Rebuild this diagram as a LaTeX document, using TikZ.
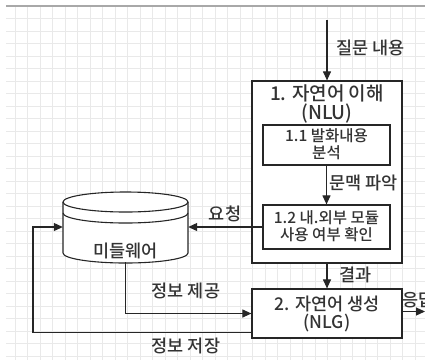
\documentclass[tikz,border=0pt]{standalone}
\usepackage{fontspec}
\setmainfont{Noto Sans CJK KR Medium}
\usetikzlibrary{arrows.meta,calc}
\definecolor{gridc}{HTML}{E9E9E9}
\definecolor{topc}{HTML}{A8A8A8}
\definecolor{inkc}{HTML}{262626}
\definecolor{txtc}{HTML}{333333}
\tikzset{
  boxst/.style={draw=inkc, line width=1.2pt, fill=white, inner sep=0pt},
  arr/.style={draw=inkc, line width=1.1pt, -{Triangle[length=9pt,width=8pt]}},
  plain/.style={draw=inkc, line width=1.1pt},
  lbl/.style={text=txtc, font=\fontsize{17.5}{20}\selectfont, inner sep=0pt},
  btxt/.style={text=txtc, font=\fontsize{15.5}{17}\selectfont, align=center, inner sep=0pt},
  ttxt/.style={text=txtc, font=\fontsize{19}{19}\selectfont, align=center, inner sep=0pt}
}
\begin{document}
\begin{tikzpicture}[x=1pt,y=-1pt]
\useasboundingbox (0,0) rectangle (425,360);
\clip (0,0) rectangle (425,360);
\fill[white] (0,0) rectangle (425,360);
% grid
\foreach \gx in {15,27.5,...,425} \draw[gridc, line width=1pt] (\gx,6) -- (\gx,360);
\foreach \gy in {18.5,31,...,360} \draw[gridc, line width=1pt] (6,\gy) -- (425,\gy);
\draw[topc, line width=1.5pt] (6,6) -- (425,6);

% boxes
\node[boxst, minimum width=150pt, minimum height=182pt] (nlu) at (327,172) {};
\node[ttxt] (nlut) at (327,103.5) {1. 자연어 이해\\(NLU)};
\node[boxst, minimum width=127pt, minimum height=40pt] (b11) at (326.5,145) {};
\node[btxt] (b11t) at (326.5,144) {1.1 발화내용\\분석};
\node[boxst, minimum width=127pt, minimum height=44pt] (b12) at (326.5,227) {};
\node[btxt] (b12t) at (326.5,226.5) {1.2 내.외부 모듈\\사용 여부 확인};
\node[boxst, minimum width=150pt, minimum height=49pt] (b2) at (327,313.5) {};
\node[ttxt, font=\fontsize{17.5}{18}\selectfont] (b2t) at (327,314) {2. 자연어 생성\\(NLG)};

% middleware cylinder
\node[minimum width=125pt, minimum height=70pt, inner sep=0pt] (mw) at (125.5,227) {};
\fill[white] (63,202) -- (63,253) arc[start angle=180,end angle=360,x radius=62.5pt,y radius=10pt] -- (188,202) -- cycle;
\draw[inkc, line width=1.1pt] (63,202) -- (63,253) arc[start angle=180,end angle=360,x radius=62.5pt,y radius=10pt] -- (188,202);
\draw[inkc, line width=1.1pt, fill=white] (125.5,202) ellipse [x radius=62.5pt, y radius=10pt];
\draw[inkc, line width=1.1pt] (63,213) arc[start angle=180,end angle=360,x radius=62.5pt,y radius=10pt];
\node[lbl] (mwt) at (125.5,251) {미들웨어};

% connectors
\coordinate (qin) at (327,20);
\coordinate (out) at (425,311.5);
\draw[arr] (qin) -- (nlu.north);
\draw[arr] (b11.south) -- (b12.north);
\draw[arr] (b12.west) -- (mw.east);
\draw[arr] (nlu.south) -- (b2.north);
\draw[arr] (mw.south) |- (b2.west);
\draw[arr] ([yshift=6.5pt]b2.south west) -- ([yshift=6.5pt]b2.south west -| 33,0) |- (mw.west);
\draw[arr] (b2.east |- out) -- (out);

% labels
\node[lbl, anchor=west] (lq) at (336,48) {질문 내용};
\node[lbl, anchor=west] (lm) at (329,183) {문맥 파악};
\node[lbl] (lr) at (225,214) {요청};
\node[lbl] (lp) at (186,291) {정보 제공};
\node[lbl] (ls) at (186,346) {정보 저장};
\node[lbl, anchor=west] (lg) at (339,275) {결과};
\node[lbl, anchor=west] (la) at (402,300) {응답};
\end{tikzpicture}
\end{document}
